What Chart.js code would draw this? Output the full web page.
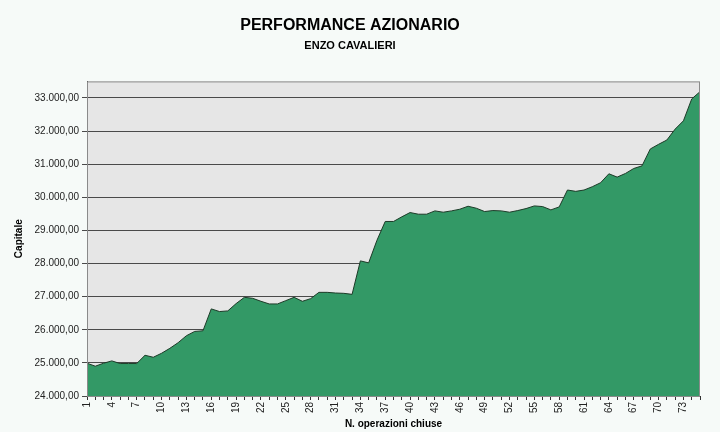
<!DOCTYPE html>
<html>
<head>
<meta charset="utf-8">
<script src="https://cdn.jsdelivr.net/npm/chart.js@4/dist/chart.umd.min.js"></script>
<style>
  html, body { margin: 0; padding: 0; background: #f6faf8; }
  #wrap { width: 720px; height: 432px; }
</style>
</head>
<body>
<div id="wrap"><canvas id="perf" width="720" height="432"></canvas></div>
<script>
// N. operazioni chiuse
let operazioni = Array.from({ length: 75 }, (_, i) => String(i + 1))

// capitale dopo ogni operazione
let capitale = [
  24990, 24900, 24990, 25060, 24980, 24980, 24980, 25230, 25170, 25290,
  25440, 25610, 25820, 25950, 25970, 26630, 26550, 26570, 26790, 26980,
  26950, 26860, 26780, 26780, 26880, 26980, 26860, 26940, 27130, 27130,
  27110, 27100, 27070, 28080, 28020, 28700, 29270, 29270, 29410, 29540,
  29490, 29490, 29590, 29550, 29590, 29640, 29730, 29670, 29570, 29600,
  29590, 29550, 29600, 29660, 29740, 29720, 29620, 29710, 30220, 30180,
  30220, 30320, 30440, 30710, 30610, 30720, 30870, 30950, 31460, 31600,
  31730, 32060, 32310, 32970, 33190
]

// tacche asse y
let yTicks = [24000, 25000, 26000, 27000, 28000, 29000, 30000, 31000, 32000, 33000]
let yMin = 24000
let yMax = 33500

let fontFamily = "'Liberation Sans', Arial, sans-serif"

// sfondo grigio dell'area del grafico
const plotBg = {
  id: "plotBg",
  beforeDraw(chart) {
    const { ctx, chartArea: a } = chart
    ctx.save()
    ctx.fillStyle = "#e6e6e6"
    ctx.fillRect(a.left, a.top, a.right - a.left, a.bottom - a.top)
    ctx.restore()
  },
  afterDraw(chart) {
    const { ctx, chartArea: a } = chart
    ctx.save()
    ctx.strokeStyle = "#8a8a8a"
    ctx.lineWidth = 1
    ctx.strokeRect(a.left + 0.5, a.top + 0.5, a.right - a.left - 1, a.bottom - a.top)
    ctx.restore()
  }
}

function itNumber(v) {
  let parts = Math.round(v).toString().replace(/\B(?=(\d{3})+(?!\d))/g, ".")
  return parts + ",00"
}

new Chart(document.getElementById("perf").getContext("2d"), {
  type: "line",
  data: {
    labels: operazioni,
    datasets: [{
      data: capitale,
      borderColor: "#1d3b28",
      borderWidth: 1,
      backgroundColor: "#339966",
      fill: "start",
      pointRadius: 0,
      tension: 0
    }]
  },
  plugins: [plotBg],
  options: {
    responsive: false,
    animation: false,
    layout: { padding: { left: 0, right: 20, top: 0, bottom: 0 } },
    plugins: {
      legend: { display: false },
      tooltip: { enabled: false },
      title: {
        display: true,
        text: "PERFORMANCE AZIONARIO",
        color: "#000",
        font: { family: fontFamily, size: 16, weight: "bold" },
        padding: { top: 16, bottom: 0 }
      },
      subtitle: {
        display: true,
        text: "ENZO CAVALIERI",
        color: "#000",
        font: { family: fontFamily, size: 11, weight: "bold" },
        padding: { top: 4, bottom: 29 }
      }
    },
    scales: {
      x: {
        offset: false,
        grid: {
          display: true,
          drawOnChartArea: false,
          drawTicks: true,
          tickLength: 4,
          color: "#333"
        },
        border: { display: true, color: "#333" },
        ticks: {
          autoSkip: false,
          minRotation: 90,
          maxRotation: 90,
          padding: 2,
          color: "#222",
          font: { family: fontFamily, size: 10 },
          callback: function (val, index) {
            return index % 3 === 0 ? this.getLabelForValue(val) : ""
          }
        },
        title: {
          display: true,
          text: "N. operazioni chiuse",
          color: "#000",
          font: { family: fontFamily, size: 10, weight: "bold" },
          padding: { top: 0, bottom: 2 }
        },
        afterFit(scale) { scale.height = 36 }
      },
      y: {
        min: yMin,
        max: yMax,
        afterBuildTicks(scale) {
          scale.ticks = yTicks.map(v => ({ value: v }))
        },
        grid: {
          color: "#4a4a4a",
          lineWidth: 1,
          tickLength: 5,
          drawTicks: true
        },
        border: { display: true, color: "#333" },
        ticks: {
          autoSkip: false,
          color: "#222",
          padding: 3,
          font: { family: fontFamily, size: 10 },
          callback: v => itNumber(v)
        },
        title: {
          display: true,
          text: "Capitale",
          color: "#000",
          font: { family: fontFamily, size: 10, weight: "bold" },
          padding: { top: 13, bottom: 0 }
        },
        afterFit(scale) { scale.width = 87 }
      }
    }
  }
})
</script>
</body>
</html>
